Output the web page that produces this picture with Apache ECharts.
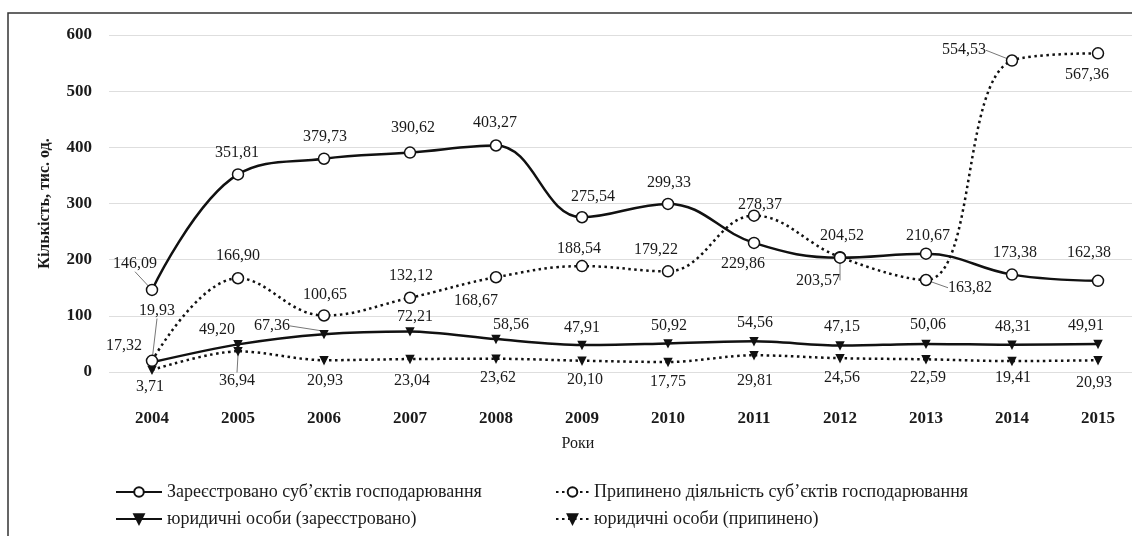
<!DOCTYPE html>
<html>
<head>
<meta charset="utf-8">
<script src="https://cdn.jsdelivr.net/npm/echarts@6/dist/echarts.min.js"></script>
<style>
  html, body { margin: 0; padding: 0; background: #fff; }
  #chart { width: 1132px; height: 536px; }
</style>
</head>
<body>
<div id="chart"></div>
<script>
// роки
var years = ['2004', '2005', '2006', '2007', '2008', '2009', '2010', '2011', '2012', '2013', '2014', '2015'];
var yTicks = [0, 100, 200, 300, 400, 500, 600];

// тис. од.
var registeredVals = [146.09, 351.81, 379.73, 390.62, 403.27, 275.54, 299.33, 229.86, 203.57, 210.67, 173.38, 162.38];
var closedVals = [19.93, 166.90, 100.65, 132.12, 168.67, 188.54, 179.22, 278.37, 204.52, 163.82, 554.53, 567.36];
var legalRegVals = [17.32, 49.20, 67.36, 72.21, 58.56, 47.91, 50.92, 54.56, 47.15, 50.06, 48.31, 49.91];
var legalClosedVals = [3.71, 36.94, 20.93, 23.04, 23.62, 20.10, 17.75, 29.81, 24.56, 22.59, 19.41, 20.93];

var names = [
    'Зареєстровано суб’єктів господарювання',
    'Припинено діяльність суб’єктів господарювання',
    'юридичні особи (зареєстровано)',
    'юридичні особи (припинено)'
];

// зсуви підписів (dx, dy)
var shift1 = [[-17,-15],[-1,-10],[1,-11],[3,-14],[-1,-11],[11,-9],[1,-10],[-11,32],[-22,34],[2,-7],[3,-11],[-9,-17]];
var shift2 = [[5,-39],[0,-11],[1,-9],[1,-11],[-20,35],[-3,-6],[-12,-10],[6,0],[2,-10],[44,19],[-48,1],[-11,33]];
var shift3 = [[-28,-7],[-21,-5],[-52,1],[5,-5],[15,-5],[0,-8],[1,-8],[1,-9],[2,-9],[2,-10],[1,-9],[-12,-9]];
var shift4 = [[-2,5],[-1,17],[1,8],[2,9],[2,7],[3,7],[0,8],[1,13],[2,7],[2,6],[1,4],[-4,10]];
// підписи з виносною лінією
var leader1 = [0, 8];
var leader2 = [0, 9, 10];
var leader3 = [2];
var leader4 = [1];

var serif = '"Liberation Serif", "DejaVu Serif", serif';

function fmt(v) {
    return v.toFixed(2).replace('.', ',');
}

function makeData(values, leaders) {
    return values.map(function (v, i) {
        var item = { value: v };
        if (leaders.indexOf(i) >= 0) {
            item.labelLine = { show: true };
        }
        return item;
    });
}

function makeSeries(idx, values, shifts, leaders, opt) {
    var corr = opt.pos === 'top' ? 8 : -5;
    return {
        name: names[idx],
        type: 'line',
        smooth: opt.smooth,
        data: makeData(values, leaders),
        symbol: opt.symbol,
        symbolSize: opt.symbolSize,
        symbolRotate: opt.rotate || 0,
        showAllSymbol: true,
        z: opt.z,
        itemStyle: {
            color: opt.fill,
            borderColor: '#111',
            borderWidth: 1.5
        },
        lineStyle: {
            color: '#111',
            width: opt.width,
            type: opt.dash
        },
        label: {
            show: true,
            position: opt.pos,
            distance: 5,
            fontFamily: serif,
            fontSize: 16,
            color: '#1a1a1a',
            formatter: function (p) { return fmt(p.value); }
        },
        labelLine: {
            show: false,
            lineStyle: { color: '#777', width: 1 }
        },
        labelLayout: function (p) {
            var s = shifts[p.dataIndex];
            return { dx: s[0], dy: s[1] + corr };
        },
        emphasis: { disabled: true }
    };
}

var chart = echarts.init(document.getElementById('chart'));

var option = {
    animation: false,
    backgroundColor: '#fff',
    graphic: [{
        type: 'rect',
        shape: { x: 8, y: 13, width: 1140, height: 540 },
        style: { fill: 'none', stroke: '#333', lineWidth: 1.5 },
        silent: true
    }],
    grid: {
        left: 109,
        top: 35,
        width: 1032,
        height: 337,
        outerBoundsMode: 'none'
    },
    legend: [{
        data: [names[0], names[2]],
        orient: 'vertical',
        left: 110,
        top: 478,
        itemWidth: 46,
        itemHeight: 12,
        itemGap: 9,
        textStyle: { fontFamily: serif, fontSize: 18, color: '#1a1a1a' }
    }, {
        data: [names[1], names[3]],
        orient: 'vertical',
        left: 550,
        top: 478,
        itemWidth: 33,
        itemHeight: 12,
        itemGap: 9,
        textStyle: { fontFamily: serif, fontSize: 18, color: '#1a1a1a' }
    }],
    xAxis: {
        type: 'category',
        data: years,
        boundaryGap: true,
        name: 'Роки',
        nameLocation: 'middle',
        nameGap: 64,
        nameTextStyle: { fontFamily: serif, fontSize: 16, color: '#1a1a1a', padding: [0, 94, 0, 0] },
        axisLine: { show: false },
        axisTick: { show: false },
        axisLabel: {
            margin: 38,
            fontFamily: serif,
            fontSize: 17,
            fontWeight: 'bold',
            color: '#1a1a1a'
        }
    },
    yAxis: {
        type: 'value',
        min: yTicks[0],
        max: yTicks[yTicks.length - 1],
        interval: 100,
        name: 'Кількість, тис. од.',
        nameLocation: 'middle',
        nameGap: 56,
        nameTextStyle: { fontFamily: serif, fontSize: 16, fontWeight: 'bold', color: '#1a1a1a' },
        axisLine: { show: false },
        axisTick: { show: false },
        axisLabel: {
            margin: 17,
            fontFamily: serif,
            fontSize: 17,
            fontWeight: 'bold',
            color: '#1a1a1a'
        },
        splitLine: { lineStyle: { color: '#dedede', width: 1 } }
    },
    series: [
        makeSeries(0, registeredVals, shift1, leader1, {
            smooth: 0.4, symbol: 'circle', symbolSize: 11, fill: '#fff',
            width: 2.5, dash: 'solid', pos: 'top', z: 4
        }),
        makeSeries(1, closedVals, shift2, leader2, {
            smooth: 0.4, symbol: 'circle', symbolSize: 11, fill: '#fff',
            width: 2.5, dash: [2.5, 3.5], pos: 'top', z: 3
        }),
        makeSeries(2, legalRegVals, shift3, leader3, {
            smooth: 0.3, symbol: 'triangle', symbolSize: 7, fill: '#111', rotate: 180,
            width: 2.5, dash: 'solid', pos: 'top', z: 2
        }),
        makeSeries(3, legalClosedVals, shift4, leader4, {
            smooth: 0.3, symbol: 'triangle', symbolSize: 7, fill: '#111', rotate: 180,
            width: 2.5, dash: [2.5, 3.5], pos: 'bottom', z: 1
        })
    ]
};

chart.setOption(option);
</script>
</body>
</html>
